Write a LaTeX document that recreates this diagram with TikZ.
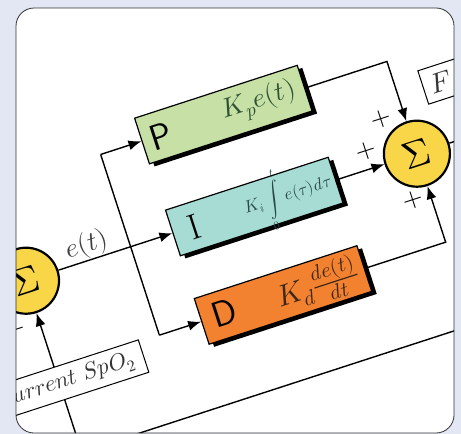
\documentclass[tikz,border=0pt]{standalone}
\usepackage{unicode-math}
\usetikzlibrary{arrows.meta}
\definecolor{cardbg}{HTML}{E2E7F3}
\definecolor{pgreen}{HTML}{C6E0A5}
\definecolor{iteal}{HTML}{A7DCD5}
\definecolor{dorange}{HTML}{F28130}
\definecolor{sumyellow}{HTML}{F8D648}
\definecolor{ptext}{HTML}{2E5233}
\definecolor{itext}{HTML}{284947}
\definecolor{dtext}{HTML}{3F2818}
\newcommand{\fsz}[1]{\fontsize{#1}{#1}\selectfont}
\begin{document}
\begin{tikzpicture}[x=1pt, y=-1pt,
    wire/.style={line width=1.4pt},
    arr/.style={wire, -{Latex[length=13pt,width=10pt]}},
    block/.style={draw, line width=1.2pt, minimum width=171pt, minimum height=48pt, inner sep=0pt},
    shadowbox/.style={fill=black, minimum width=171pt, minimum height=48pt, inner sep=0pt},
    sumnode/.style={circle, draw, line width=2.2pt, fill=sumyellow, minimum size=66pt, inner sep=0pt, font=\fsz{38}},
    letter/.style={font=\fsz{36}\sffamily},
    plussign/.style={font=\fsz{26}\bfseries},
    tagbox/.style={draw, line width=1pt, fill=white, font=\fsz{23}, text=black!80}]
    \useasboundingbox (0,0) rectangle (461,434);
    \fill[cardbg] (0,0) rectangle (461,434);
    \fill[white, rounded corners=18pt] (16,8) rectangle (454,433);
    \begin{scope}
    \clip[rounded corners=18pt] (16,8) rectangle (454,433);
    \begin{scope}[rotate=18, transform shape]
    % P, I, D blocks
    \node[shadowbox] (Ps) at (181,182) {}; \node[block, fill=pgreen] (P) at (177,178) {};
    \node[shadowbox] (Is) at (182,279) {}; \node[block, fill=iteal] (I) at (178,275) {};
    \node[shadowbox] (Ds) at (182,372) {}; \node[block, fill=dorange] (D) at (178,368) {};
    \node[letter] (Pl) at (111,179) {P};
    \node[letter, font=\fsz{36}\rmfamily] (Il) at (115,276) {I};
    \node[letter] (Dl) at (117,367) {D};
    \node[font=\fsz{27}, text=ptext] (Pf) at (215,177) {$K_pe(t)$};
    \node[font=\fsz{17}, text=itext] (If) at (214,275) {$K_i\displaystyle\int\limits_0^t e(\tau)d\tau$};
    \node[font=\fsz{30}, text=dtext] (Df) at (214,369) {$K_d\frac{de(t)}{dt}$};
    % sums
    \node[sumnode] (S1) at (-62,275) {$\Sigma$};
    \node[sumnode] (S2) at (349,275) {$\Sigma$};
    \node[plussign] (p1) at (326,231) {$+$}; \node[plussign] (p2) at (301,257) {$+$};
    \node[plussign] (p3) at (331,318) {$+$}; \node[plussign] (m1) at (-88,322) {$-$};
    \node[font=\fsz{27}, text=black!75] (et) at (7,260) {$e(t)$};
    % connectors
    \coordinate (bP) at (48,178); \coordinate (bD) at (48,368);
    \coordinate (out) at (480,275); \coordinate (fbL) at (-62,455);
    \draw[arr] (S1) -- (I);
    \draw[wire] (bP) -- (bD);
    \draw[arr] (bP) -- (P); \draw[arr] (bD) -- (D);
    \draw[arr] (P) -| (S2); \draw[arr] (I) -- (S2); \draw[arr] (D) -| (S2);
    \draw[arr] (S2) -- (out) |- (fbL) -- (S1);
    \node[tagbox, minimum width=165pt, minimum height=34pt] (cur) at (-56,383) {$Current\ SpO_2$};
    \node[tagbox, font=\fsz{28}, anchor=west, minimum height=31pt, text width=104pt, inner sep=8pt, align=left] (F) at (375,214) {$F$};
    \end{scope}
    \end{scope}
    \draw[black!80, line width=0.8pt, rounded corners=18pt] (16,8) rectangle (454,433);
\end{tikzpicture}
\end{document}
